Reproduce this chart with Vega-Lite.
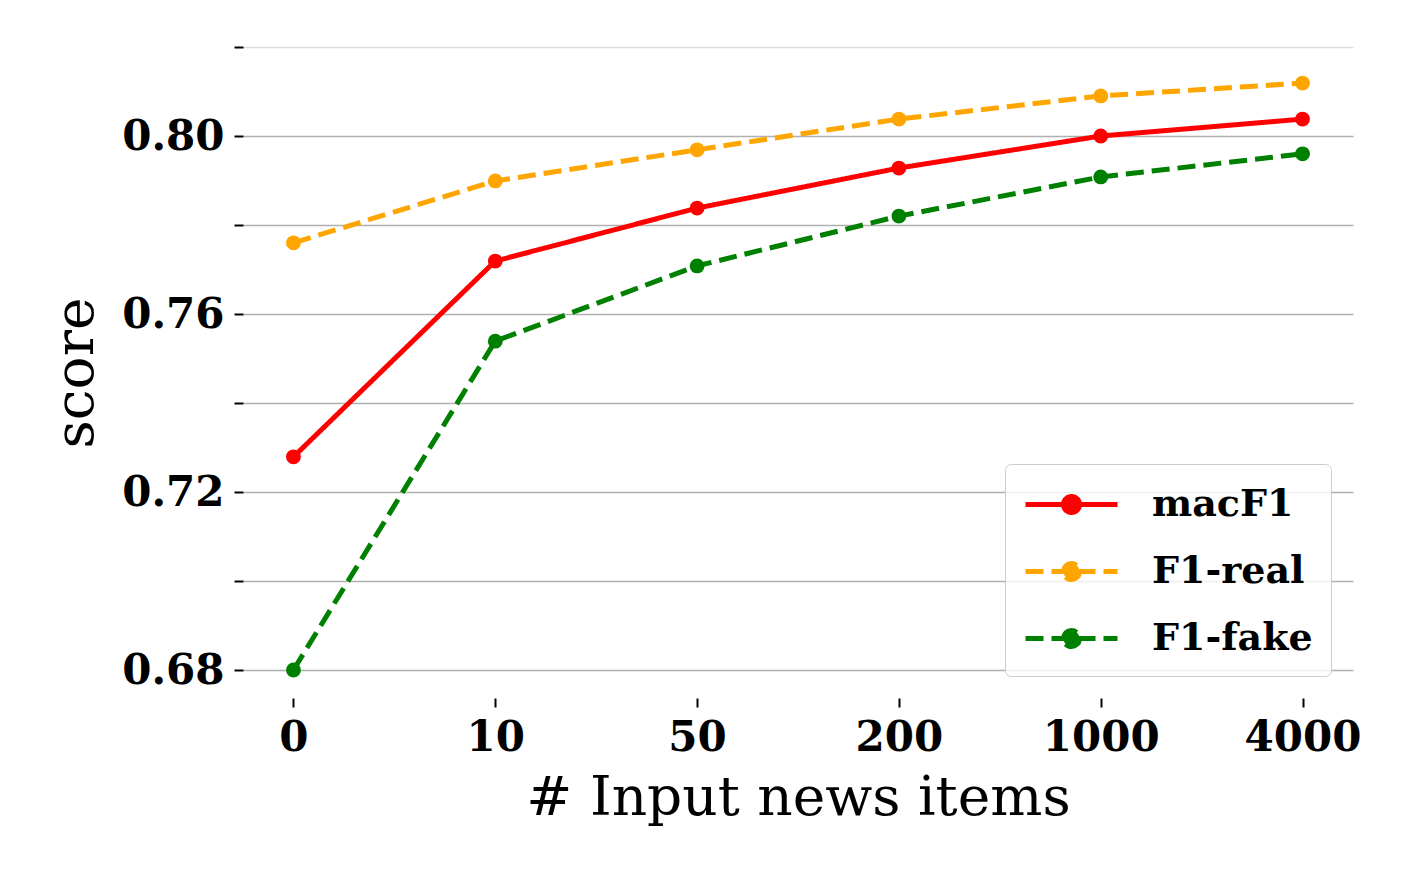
{
  "$schema": "https://vega.github.io/schema/vega-lite/v6.json",
  "autosize": {"type": "none"},
  "padding": {"left": 243, "top": 47, "right": 59, "bottom": 184},
  "width": 1110,
  "height": 651,
  "background": "white",
  "config": {
    "view": {"stroke": null},
    "font": "DejaVu Serif"
  },
  "data": {
    "values": [
      {"n": "0", "metric": "macF1", "score": 0.7279},
      {"n": "10", "metric": "macF1", "score": 0.7719},
      {"n": "50", "metric": "macF1", "score": 0.7838},
      {"n": "200", "metric": "macF1", "score": 0.7928},
      {"n": "1000", "metric": "macF1", "score": 0.8000},
      {"n": "4000", "metric": "macF1", "score": 0.8038},
      {"n": "0", "metric": "F1-real", "score": 0.7760},
      {"n": "10", "metric": "F1-real", "score": 0.7899},
      {"n": "50", "metric": "F1-real", "score": 0.7969},
      {"n": "200", "metric": "F1-real", "score": 0.8038},
      {"n": "1000", "metric": "F1-real", "score": 0.8090},
      {"n": "4000", "metric": "F1-real", "score": 0.8119},
      {"n": "0", "metric": "F1-fake", "score": 0.6800},
      {"n": "10", "metric": "F1-fake", "score": 0.7539},
      {"n": "50", "metric": "F1-fake", "score": 0.7708},
      {"n": "200", "metric": "F1-fake", "score": 0.7820},
      {"n": "1000", "metric": "F1-fake", "score": 0.7908},
      {"n": "4000", "metric": "F1-fake", "score": 0.7960}
    ]
  },
  "encoding": {
    "x": {
      "field": "n",
      "type": "ordinal",
      "sort": ["0", "10", "50", "200", "1000", "4000"],
      "scale": {"type": "point", "padding": 0.25},
      "axis": {
        "title": "# Input news items",
        "titleFont": "DejaVu Serif",
        "titleFontSize": 55,
        "titleFontWeight": "normal",
        "titleColor": "black",
        "titlePadding": 13,
        "labelFont": "DejaVu Serif",
        "labelFontSize": 42,
        "labelFontWeight": "bold",
        "labelColor": "black",
        "labelAngle": 0,
        "labelPadding": 10,
        "domain": false,
        "grid": false,
        "ticks": true,
        "tickSize": 9,
        "tickWidth": 2,
        "tickColor": "black"
      }
    },
    "y": {
      "field": "score",
      "type": "quantitative",
      "scale": {"domain": [0.67371, 0.82], "zero": false, "nice": false},
      "axis": {
        "title": "score",
        "titleFont": "DejaVu Serif",
        "titleFontSize": 55,
        "titleFontWeight": "normal",
        "titleColor": "black",
        "titlePadding": 17,
        "values": [0.68, 0.70, 0.72, 0.74, 0.76, 0.78, 0.80, 0.82],
        "labelExpr": "round(datum.value * 100) % 4 == 0 ? format(datum.value, '.2f') : ''",
        "labelFont": "DejaVu Serif",
        "labelFontSize": 42,
        "labelFontWeight": "bold",
        "labelColor": "black",
        "labelPadding": 10,
        "domain": false,
        "grid": true,
        "gridColor": {"condition": {"test": "datum.value >= 0.819", "value": "#dcdcdc"}, "value": "#b0b0b0"},
        "gridWidth": 1.5,
        "ticks": true,
        "tickSize": 9,
        "tickWidth": 2,
        "tickColor": "black"
      }
    },
    "color": {
      "field": "metric",
      "type": "nominal",
      "sort": ["macF1", "F1-real", "F1-fake"],
      "scale": {"domain": ["macF1", "F1-real", "F1-fake"], "range": ["#ff0000", "#ffa500", "#008000"]},
      "legend": {
        "title": null,
        "orient": "bottom-right",
        "offset": 22,
        "padding": 18,
        "fillColor": "rgba(255,255,255,0.8)",
        "strokeColor": "#cccccc",
        "cornerRadius": 6,
        "labelFont": "DejaVu Serif",
        "labelFontSize": 38,
        "labelFontWeight": "bold",
        "labelColor": "black",
        "labelLimit": 0,
        "labelOffset": 84,
        "rowPadding": 25,
        "symbolType": "M-1,0H3.6M0.9,0A0.4,0.4 0 1,1 1.7,0A0.4,0.4 0 1,1 0.9,0Z",
        "symbolSize": 1600,
        "symbolStrokeWidth": 5,
        "encode": {
          "symbols": {"update": {"fill": {"scale": "color", "field": "value"}, "fillOpacity": {"value": 1}, "strokeWidth": {"value": 5}}}
        }
      }
    },
    "strokeDash": {
      "field": "metric",
      "type": "nominal",
      "sort": ["macF1", "F1-real", "F1-fake"],
      "scale": {"domain": ["macF1", "F1-real", "F1-fake"], "range": [[1, 0], [18, 8], [18, 8]]},
      "legend": null
    }
  },
  "layer": [
    {"mark": {"type": "line", "strokeWidth": 5}, "encoding": {"strokeWidth": {"value": 5}}},
    {"mark": {"type": "point", "filled": true, "opacity": 1}, "encoding": {"strokeDash": null, "size": {"value": 220}}}
  ]
}
